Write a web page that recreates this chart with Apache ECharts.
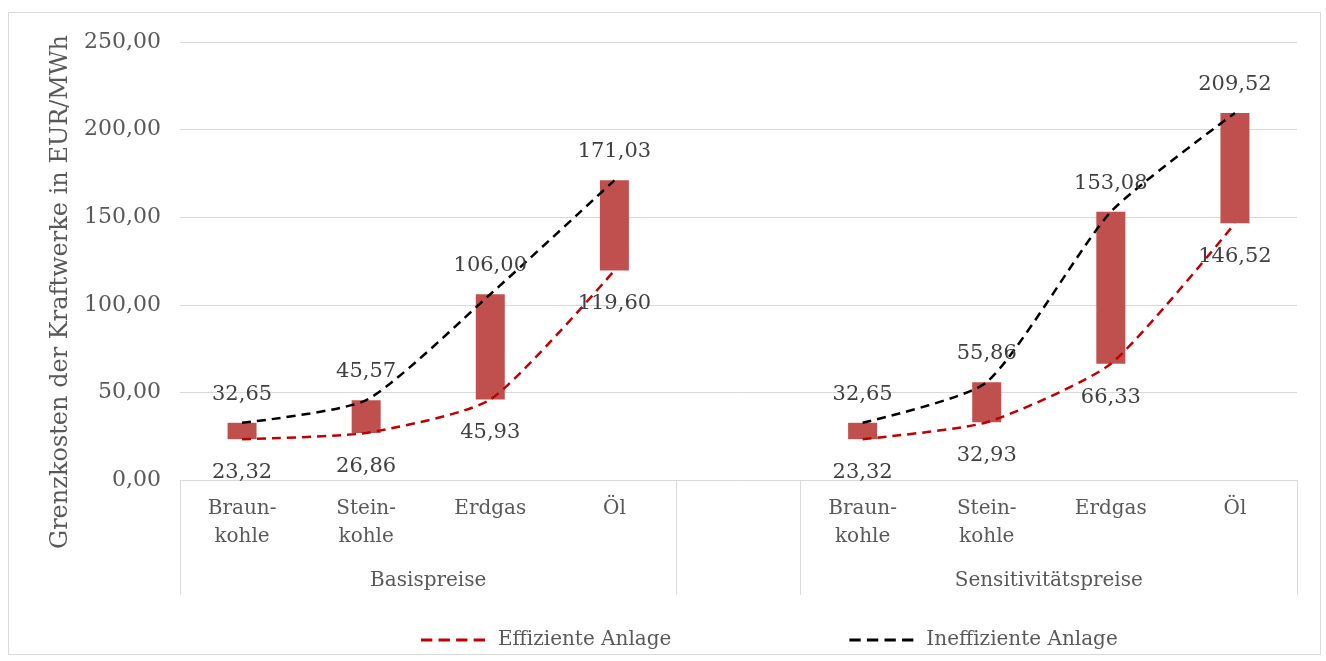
<!DOCTYPE html>
<html>
<head>
<meta charset="utf-8">
<script src="https://cdn.jsdelivr.net/npm/echarts@6/dist/echarts.min.js"></script>
<style>
  html, body { margin: 0; padding: 0; background: #fff; }
  #main { width: 1326px; height: 661px; }
</style>
</head>
<body>
<div id="main"></div>
<script>
// Daten
var categories = ['Braun-\nkohle', 'Stein-\nkohle', 'Erdgas', 'Öl', '', 'Braun-\nkohle', 'Stein-\nkohle', 'Erdgas', 'Öl'];
var effizient = [23.32, 26.86, 45.93, 119.60, null, 23.32, 32.93, 66.33, 146.52];
var ineffizient = [32.65, 45.57, 106.00, 171.03, null, 32.65, 55.86, 153.08, 209.52];
var gruppen = { 2: 'Basispreise', 7: 'Sensitivitätspreise' };

var FONT = 'DejaVu Serif';

function fmt(v) {
    return Number(v).toFixed(2).replace('.', ',');
}

// Differenz fuer schwebende Balken
var spanne = effizient.map(function (v, i) {
    return v == null ? null : +(ineffizient[i] - v).toFixed(2);
});

var myChart = echarts.init(document.getElementById('main'));

var dash = 'path://M0,0h11v3h-11z M17,0h11v3h-11z M34,0h11v3h-11z M51,0h11v3h-11z';

var option = {
    animation: false,
    backgroundColor: '#fff',
    graphic: [{
        type: 'rect',
        shape: { x: 8.5, y: 12.5, width: 1312, height: 642 },
        style: { fill: 'none', stroke: '#d9d9d9', lineWidth: 1 },
        silent: true
    }],
    grid: { left: 180, right: 29, top: 42, bottom: 181 },
    legend: {
        left: 416,
        top: 625,
        itemWidth: 64,
        itemHeight: 3,
        itemGap: 178,
        symbolKeepAspect: false,
        textStyle: { fontFamily: FONT, fontSize: 20, color: '#595959', padding: [0, 0, 0, 8] },
        data: [
            { name: 'Effiziente Anlage', icon: dash, itemStyle: { color: '#C00000' } },
            { name: 'Ineffiziente Anlage', icon: dash, itemStyle: { color: '#000000' } }
        ],
        selectedMode: false
    },
    xAxis: [{
        type: 'category',
        data: categories,
        axisLine: { lineStyle: { color: '#d9d9d9' } },
        axisTick: { show: false },
        axisLabel: {
            interval: 0,
            fontFamily: FONT,
            fontSize: 20,
            lineHeight: 28,
            color: '#595959',
            margin: 15
        }
    }, {
        type: 'value',
        position: 'bottom',
        min: 0,
        max: 9,
        axisLine: { show: false },
        splitLine: { show: false },
        axisTick: {
            show: true,
            customValues: [0, 4, 5, 9],
            length: 115,
            lineStyle: { color: '#d9d9d9' }
        },
        axisLabel: {
            customValues: [2, 7],
            formatter: function (v) { return gruppen[v] || ''; },
            fontFamily: FONT,
            fontSize: 20,
            color: '#595959',
            margin: 91
        }
    }],
    yAxis: {
        type: 'value',
        min: 0,
        max: 250,
        interval: 50,
        name: 'Grenzkosten der Kraftwerke in EUR/MWh',
        nameLocation: 'middle',
        nameGap: 104,
        nameTextStyle: { fontFamily: FONT, fontSize: 24, color: '#595959', padding: [0, 62, 0, 0] },
        axisLine: { show: false },
        axisTick: { show: false },
        splitLine: { lineStyle: { color: '#d9d9d9' } },
        axisLabel: {
            formatter: fmt,
            fontFamily: FONT,
            fontSize: 22,
            color: '#595959',
            margin: 19
        }
    },
    series: [{
        name: 'basis',
        type: 'bar',
        stack: 'spanne',
        barWidth: 29,
        data: effizient,
        itemStyle: { color: 'transparent' },
        silent: true
    }, {
        name: 'Spanne',
        type: 'bar',
        stack: 'spanne',
        barWidth: 29,
        data: spanne,
        itemStyle: { color: '#C0504D' },
        silent: true
    }, {
        name: 'Effiziente Anlage',
        type: 'line',
        data: effizient,
        smooth: 0.2,
        connectNulls: false,
        symbol: 'circle',
        symbolSize: 2,
        itemStyle: { color: 'transparent' },
        lineStyle: { color: '#C00000', width: 2.5, type: [9, 6] },
        label: {
            show: true,
            position: 'bottom',
            distance: 22,
            formatter: function (p) { return fmt(p.value); },
            fontFamily: FONT,
            fontSize: 21,
            color: '#404040'
        },
        emphasis: { disabled: true },
        z: 3
    }, {
        name: 'Ineffiziente Anlage',
        type: 'line',
        data: ineffizient,
        smooth: 0.2,
        connectNulls: false,
        symbol: 'circle',
        symbolSize: 2,
        itemStyle: { color: 'transparent' },
        lineStyle: { color: '#000000', width: 2.5, type: [9, 6] },
        label: {
            show: true,
            position: 'top',
            distance: 17,
            formatter: function (p) { return fmt(p.value); },
            fontFamily: FONT,
            fontSize: 21,
            color: '#404040'
        },
        emphasis: { disabled: true },
        z: 3
    }]
};

myChart.setOption(option);
</script>
</body>
</html>
